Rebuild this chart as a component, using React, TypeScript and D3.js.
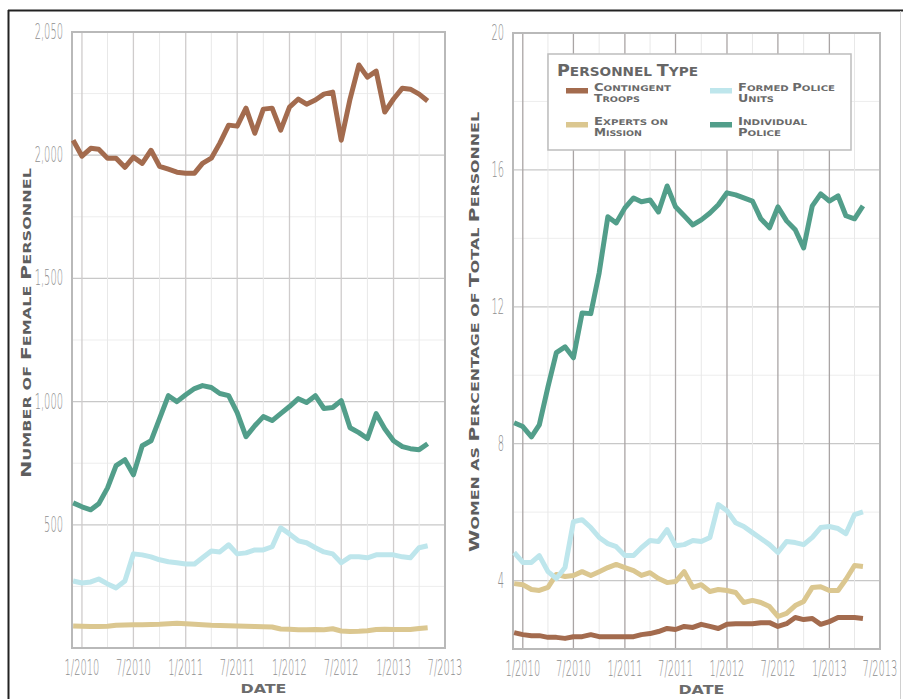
import React from 'react';
import * as d3 from 'd3';

// monthly observations, Dec 2009 .. May 2013
const months = d3.timeMonth.range(new Date(2009, 11, 1), new Date(2013, 5, 1));

// number of female personnel
const troopsCount = [2061, 1996, 2028, 2024, 1988, 1988, 1951, 1992, 1967, 2020, 1955, 1943, 1931, 1927, 1927, 1967, 1988, 2049, 2122, 2118, 2191, 2089, 2187, 2191, 2102, 2195, 2228, 2207, 2224, 2248, 2256, 2061, 2228, 2366, 2317, 2341, 2175, 2228, 2272, 2268, 2248, 2220];
const expertsCount = [89, 88, 87, 87, 88, 92, 93, 94, 94, 95, 96, 98, 100, 98, 96, 94, 92, 91, 90, 89, 88, 87, 86, 85, 77, 76, 74, 74, 75, 74, 78, 69, 67, 68, 70, 75, 76, 75, 75, 75, 79, 82];
const fpuCount = [272, 264, 268, 280, 260, 244, 272, 382, 378, 370, 358, 350, 346, 341, 341, 366, 394, 390, 419, 382, 386, 398, 398, 411, 488, 463, 435, 427, 407, 390, 382, 346, 370, 370, 366, 378, 378, 378, 370, 366, 407, 415];
const policeCount = [589, 573, 561, 585, 650, 740, 764, 703, 821, 841, 931, 1024, 1000, 1028, 1053, 1065, 1057, 1033, 1024, 955, 858, 902, 939, 923, 951, 980, 1012, 996, 1024, 972, 976, 1004, 894, 874, 850, 951, 890, 841, 817, 809, 805, 829];

// women as percentage of total personnel
const troopsPct = [2.48, 2.42, 2.39, 2.39, 2.34, 2.34, 2.31, 2.36, 2.36, 2.42, 2.36, 2.36, 2.36, 2.36, 2.36, 2.42, 2.45, 2.51, 2.6, 2.57, 2.66, 2.63, 2.72, 2.66, 2.6, 2.72, 2.74, 2.74, 2.74, 2.77, 2.77, 2.66, 2.74, 2.92, 2.86, 2.89, 2.72, 2.8, 2.92, 2.92, 2.92, 2.89];
const expertsPct = [3.91, 3.88, 3.74, 3.71, 3.8, 4.18, 4.12, 4.15, 4.26, 4.15, 4.26, 4.38, 4.47, 4.38, 4.29, 4.15, 4.23, 4.06, 3.94, 3.97, 4.26, 3.8, 3.88, 3.68, 3.74, 3.71, 3.65, 3.36, 3.42, 3.36, 3.24, 2.95, 3.04, 3.27, 3.39, 3.8, 3.82, 3.71, 3.71, 4.03, 4.44, 4.41];
const fpuPct = [4.82, 4.53, 4.53, 4.73, 4.26, 4.06, 4.38, 5.72, 5.78, 5.55, 5.26, 5.08, 4.99, 4.73, 4.73, 4.96, 5.17, 5.14, 5.49, 5.02, 5.05, 5.17, 5.14, 5.26, 6.22, 6.04, 5.69, 5.58, 5.4, 5.23, 5.05, 4.82, 5.14, 5.11, 5.05, 5.26, 5.55, 5.58, 5.52, 5.37, 5.93, 6.01];
const policePct = [8.61, 8.5, 8.2, 8.55, 9.66, 10.66, 10.83, 10.51, 11.82, 11.8, 12.99, 14.63, 14.45, 14.89, 15.18, 15.07, 15.12, 14.77, 15.53, 14.92, 14.66, 14.39, 14.54, 14.74, 14.98, 15.33, 15.27, 15.18, 15.09, 14.57, 14.31, 14.92, 14.51, 14.25, 13.72, 14.95, 15.3, 15.09, 15.24, 14.66, 14.57, 14.95];

const countTicks = [500, 1000, 1500, 2000, 2500];
const countTickLabels = ['500', '1,000', '1,500', '2,000', '2,050'];
const pctTicks = [4, 8, 12, 16, 20];
const pctTickLabels = ['4', '8', '12', '16', '20'];

const types = ['Contingent Troops', 'Experts on Mission', 'Formed Police Units', 'Individual Police'];
const colors = ['#a36b4e', '#dbc790', '#bee6ec', '#529e8a'];

const xDomain = [new Date(2009, 10, 27), new Date(2013, 6, 1)];
const fmt = d3.timeFormat('%-m/%Y');

// copperplate-ish small caps: capitals full size, the rest as smaller capitals, stretched to width
const SmallCaps = ({ text, size, len, ratio = 0.78, fill = '#5e5e5e', ...rest }: any) => {
  const parts: { s: string; big: boolean }[] = [];
  for (const ch of text) {
    const big = ch !== ' ' && ch === ch.toUpperCase();
    const last = parts[parts.length - 1];
    if (last && last.big === big) last.s += ch.toUpperCase();
    else parts.push({ s: ch.toUpperCase(), big });
  }
  return (
    <text {...rest} fontFamily="DejaVu Sans" fontWeight="bold" fill={fill} fontSize={size}
      textLength={len} lengthAdjust="spacingAndGlyphs" style={{ whiteSpace: 'pre' }}>
      {parts.map((p, i) => (
        <tspan key={i} fontSize={p.big ? size : size * ratio}>{p.s}</tspan>
      ))}
    </text>
  );
};

type PanelProps = {
  x0: number; x1: number; y0: number; y1: number;
  yDomain: [number, number];
  ticks: number[]; tickLabels: string[];
  series: number[][];
  title: string; titleX: number; titleY: number; titleLen: number;
  vMajor: string;
};

const Panel = ({ x0, x1, y0, y1, yDomain, ticks, tickLabels, series, title, titleX, titleY, titleLen, vMajor }: PanelProps) => {
  const x = d3.scaleTime().domain(xDomain).range([x0, x1]);
  const y = d3.scaleLinear().domain(yDomain).range([y1, y0]);
  const step = ticks[1] - ticks[0];
  const minor = d3.range(yDomain[0] + step / 2, yDomain[1], step / 2).filter(v => !ticks.includes(v));
  const quarter = d3.timeMonth.every(3)!.range(new Date(2010, 0, 1), new Date(2013, 7, 1));
  const line = d3.line<number>().x((_, i) => x(months[i])).y(d => y(d));

  return (
    <g>
      {minor.map(v => (
        <line key={'mh' + v} x1={x0} x2={x1} y1={y(v)} y2={y(v)} stroke="#ededed" strokeWidth={1} />
      ))}
      {ticks.map(v => (
        <line key={'h' + v} x1={x0} x2={x1} y1={y(v)} y2={y(v)} stroke="#c8c8c8" strokeWidth={1.2} />
      ))}
      {quarter.map(d => {
        const major = d.getMonth() % 6 === 0;
        return (
          <line key={'v' + d.getTime()} x1={x(d)} x2={x(d)} y1={y0} y2={y1}
            stroke={major ? vMajor : '#e8e8e8'} strokeWidth={major ? 1.3 : 1} />
        );
      })}
      <rect x={x0} y={y0} width={x1 - x0} height={y1 - y0} fill="none" stroke="#b9b9b9" strokeWidth={2} />
      {series.map((s, i) => (
        <path key={i} d={line(s) ?? ''} fill="none" stroke={colors[i]} strokeWidth={5}
          strokeLinejoin="round" strokeLinecap="butt" />
      ))}
      {ticks.map((v, i) => (
        <text key={'yl' + v} transform={`translate(${x0 - 9},${y(v) + 7}) scale(0.45,1)`}
          fontSize={22} textAnchor="end" fill="#8e8e8e" fontFamily="DejaVu Sans" fontWeight={300}>
          {tickLabels[i]}
        </text>
      ))}
      {quarter.filter(d => d.getMonth() % 6 === 0).map(d => (
        <text key={'xl' + d.getTime()} transform={`translate(${x(d)},${y1 + 27}) scale(0.45,1)`}
          fontSize={22} textAnchor="middle" fill="#8e8e8e" fontFamily="DejaVu Sans" fontWeight={300}>
          {fmt(d)}
        </text>
      ))}
      <SmallCaps text="DATE" size={12} len={46} fill="#6b6b6b"
        x={(x(new Date(2010, 0, 1)) + x(new Date(2013, 6, 1))) / 2 - 23} y={y1 + 45} />
      <SmallCaps text={title} size={14} len={titleLen}
        transform={`translate(${titleX},${titleY + titleLen}) rotate(-90)`} />
    </g>
  );
};

const Legend = () => {
  const lx = 548, ly = 54;
  const cols = [0, 144];
  const rows = [0, 34];
  const lines = [['Contingent', 'Troops'], ['Experts on', 'Mission'], ['Formed Police', 'Units'], ['Individual', 'Police']];
  const lens = [[77, 46], [74, 48], [97, 36], [69, 43]];
  return (
    <g>
      <rect x={lx} y={ly} width={303} height={96} fill="#fff" stroke="#bdbdbd" strokeWidth={1.5} />
      <SmallCaps text="Personnel Type" size={15} len={141} fill="#666" x={lx + 9} y={ly + 22} />
      {types.map((t, i) => {
        const cx = lx + 18 + cols[Math.floor(i / 2)];
        const cy = ly + 37 + rows[i % 2];
        return (
          <g key={t}>
            <rect x={cx} y={cy - 3} width={22} height={5.5} fill={colors[i]} />
            {lines[i].map((s, k) => (
              <SmallCaps key={k} text={s} size={10} len={lens[i][k]} fill="#6a6a6a"
                x={cx + 28} y={cy + k * 11} />
            ))}
          </g>
        );
      })}
    </g>
  );
};

export default function App() {
  return (
    <svg width={903} height={699} style={{ position: 'absolute', left: 0, top: 0, background: '#fff' }}>
      <rect x={0} y={0} width={903} height={699} fill="#fff" />
      <line x1={8.5} x2={8.5} y1={10} y2={699} stroke="#222" strokeWidth={2} />
      <line x1={8} x2={903} y1={10.5} y2={10.5} stroke="#222" strokeWidth={2} />
      <line x1={900.5} x2={900.5} y1={11} y2={699} stroke="#d0d0d0" strokeWidth={1} />
      <Panel x0={72} x1={445} y0={32} y1={648} yDomain={[0, 2500]}
        ticks={countTicks} tickLabels={countTickLabels}
        series={[troopsCount, expertsCount, fpuCount, policeCount]}
        title="Number of Female Personnel" titleX={31} titleY={168} titleLen={310} vMajor="#cfcccc" />
      <Panel x0={513} x1={880} y0={33} y1={649} yDomain={[2, 20]}
        ticks={pctTicks} tickLabels={pctTickLabels}
        series={[troopsPct, expertsPct, fpuPct, policePct]}
        title="Women as Percentage of Total Personnel" titleX={479} titleY={112} titleLen={440} vMajor="#aaa5a5" />
      <Legend />
    </svg>
  );
}
